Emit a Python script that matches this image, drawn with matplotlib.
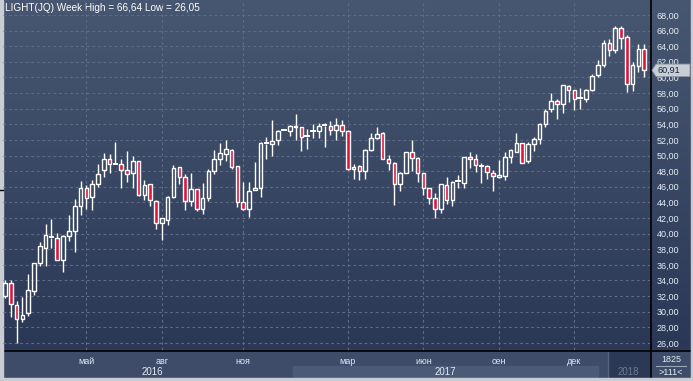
import numpy as np
import matplotlib
matplotlib.use("Agg")
import matplotlib.pyplot as plt
from matplotlib.patches import Rectangle, Polygon
from matplotlib.transforms import blended_transform_factory

# weekly OHLC
opens = [32.0, 33.7, 30.8, 29.1, 29.8, 32.7, 36.3, 38.1, 39.5, 39.5,
         36.6, 39.7, 40.3, 43.6, 45.8, 44.7, 46.3, 48.1, 49.5, 48.8,
         48.9, 48.1, 47.7, 49.3, 45.0, 46.3, 44.15, 41.3, 41.8, 44.7,
         48.5, 47.2, 44.15, 45.7, 43.1, 44.5, 48.0, 49.5, 50.25, 50.75,
         48.6, 44.1, 43.1, 45.6, 45.8, 51.5, 51.5, 52.0, 53.2, 53.15,
         53.8, 53.7, 52.4, 53.1, 53.1, 53.8, 53.8, 53.3, 53.96, 53.2,
         48.3, 48.6, 48.07, 50.7, 52.2, 52.9, 49.6, 49.1, 46.4, 47.8,
         50.5, 49.7, 47.7, 45.9, 44.6, 43.1, 46.2, 44.3, 46.6, 46.45,
         49.8, 49.5, 48.75, 48.6, 47.7, 47.3, 47.4, 49.8, 50.5, 51.6,
         49.3, 51.45, 52.1, 54.1, 55.9, 57.0, 56.6, 58.9, 58.4, 57.3,
         57.3, 58.4, 60.3, 61.6, 64.4, 63.5, 66.3, 65.15, 59.1, 61.4,
         63.6]
highs = [34.0, 34.1, 31.4, 31.9, 34.8, 36.3, 38.9, 41.2, 41.9, 40.05,
         39.8, 42.4, 44.4, 46.75, 46.2, 46.9, 48.9, 50.3, 50.2, 51.7,
         49.5, 50.55, 49.9, 49.3, 46.85, 46.3, 44.3, 42.0, 44.8, 48.8,
         48.5, 47.6, 47.7, 45.7, 46.45, 48.25, 50.7, 51.6, 51.95, 50.8,
         48.7, 46.6, 46.6, 49.2, 51.75, 52.4, 54.5, 53.3, 53.3, 53.9,
         55.3, 53.7, 53.45, 54.0, 54.2, 54.2, 54.4, 54.85, 54.6, 53.3,
         48.96, 48.75, 50.8, 52.9, 53.66, 52.95, 50.1, 49.15, 47.85, 50.5,
         51.95, 49.75, 47.75, 45.9, 45.2, 46.35, 47.2, 46.7, 47.5, 49.8,
         50.4, 50.17, 49.1, 48.8, 48.1, 49.4, 50.4, 50.8, 52.85, 51.65,
         51.7, 52.4, 54.15, 55.9, 58.0, 57.2, 59.0, 59.0, 58.4, 58.6,
         58.5, 60.5, 62.2, 64.8, 64.9, 66.64, 66.6, 65.4, 62.0, 64.3,
         64.3]
lows = [31.8, 29.3, 26.05, 28.65, 29.4, 32.2, 35.9, 35.9, 38.2, 36.6,
        35.1, 39.1, 37.6, 42.4, 43.2, 43.0, 46.0, 47.3, 47.7, 48.75,
        45.8, 46.6, 45.8, 44.8, 44.3, 43.6, 40.6, 39.15, 41.1, 44.5,
        46.3, 43.0, 43.6, 42.95, 42.5, 44.15, 47.6, 48.75, 49.3, 48.3,
        43.4, 43.0, 42.1, 45.6, 44.7, 49.5, 50.0, 51.3, 53.1, 52.5,
        51.95, 50.6, 50.9, 52.2, 52.2, 51.1, 52.6, 52.0, 52.55, 48.2,
        47.0, 46.9, 47.0, 50.6, 52.1, 49.5, 48.2, 43.7, 45.5, 47.7,
        48.0, 46.6, 45.0, 43.8, 42.0, 42.6, 43.8, 43.6, 45.8, 45.9,
        48.4, 47.95, 46.45, 46.96, 45.5, 47.1, 46.9, 49.1, 50.4, 49.1,
        49.1, 50.6, 51.5, 53.7, 55.6, 54.7, 55.5, 56.8, 55.8, 56.0,
        56.8, 58.3, 60.0, 61.3, 62.8, 63.1, 63.65, 58.1, 58.2, 60.75,
        60.1]
closes = [33.7, 31.0, 29.1, 29.55, 32.75, 36.2, 38.4, 39.8, 39.55, 36.6,
          39.7, 40.4, 43.6, 45.9, 44.5, 46.3, 47.6, 49.5, 48.9, 48.9,
          48.2, 47.6, 49.3, 45.0, 46.2, 44.3, 41.3, 42.0, 44.7, 48.4,
          47.2, 44.15, 45.7, 43.1, 44.5, 48.0, 49.5, 50.3, 50.9, 48.5,
          44.0, 43.1, 45.4, 45.9, 51.65, 51.6, 51.9, 53.2, 53.25, 53.8,
          53.6, 52.4, 52.5, 53.2, 53.8, 53.85, 53.3, 53.96, 53.15, 48.3,
          48.5, 48.07, 50.76, 52.3, 52.8, 49.6, 49.1, 46.4, 47.8, 50.4,
          49.7, 47.7, 45.9, 44.6, 43.1, 46.3, 44.3, 46.6, 46.7, 49.8,
          49.5, 48.76, 48.7, 47.9, 47.4, 47.5, 49.8, 50.7, 51.6, 49.1,
          51.45, 52.1, 54.1, 55.7, 57.0, 56.6, 59.0, 58.4, 57.3, 57.35,
          58.4, 60.15, 61.6, 64.4, 63.5, 66.3, 65.0, 59.1, 61.6, 63.6,
          60.91]

month_labels = ["май", "авг", "ноя", "мар", "июн", "сен", "дек"]
month_idx = [14, 27, 41, 59, 72, 85, 98]
years = ["2016", "2017", "2018"]
price_ticks = list(range(26, 70, 2))

W, H = 693, 381
BG_TOP = "#485771"
BG_BOT = "#2a3856"
RED = "#e3143c"
GRID = "#5d6b86"
TXT = "#e4ebf5"

fig = plt.figure(figsize=(W / 100, H / 100), dpi=100)

# background in pixel coords
bg = fig.add_axes([0, 0, 1, 1])
bg.set_xlim(0, W)
bg.set_ylim(H, 0)
bg.axis("off")
top = np.array(matplotlib.colors.to_rgb(BG_TOP))
bot = np.array(matplotlib.colors.to_rgb(BG_BOT))
t = np.linspace(0, 1, 350)[:, None, None]
grad = top * (1 - t) + bot * t
grad = np.repeat(grad, 2, axis=1)
bg.imshow(grad, extent=[0, W, 350, 0], aspect="auto", zorder=0)

# bottom strip
bg.add_patch(Rectangle((0, 350), W, 31, color="#3e4c69", zorder=1))
bg.add_patch(Rectangle((293, 366), 305, 12, color="#4b5a77", zorder=2))
bg.add_patch(Rectangle((609, 352), 40, 26, color="#2b3956", zorder=2))
bg.plot([608, 608], [352, 378], color="#56637c", lw=1, zorder=3)
bg.plot([3, W], [350.5, 350.5], color="black", lw=1.2, zorder=4)
bg.plot([650.5, 650.5], [0, 378], color="black", lw=1.2, zorder=4)
# right-bottom counter box
bg.text(671, 360, "1825", color=TXT, fontsize=6.5, family="Liberation Sans",
        ha="center", va="center", zorder=5)
bg.plot([656, 686], [366, 366], color="#9aa5b8", lw=0.8, zorder=5)
bg.text(671, 372.5, ">111<", color=TXT, fontsize=6.5, family="Liberation Sans",
        ha="center", va="center", zorder=5)
# frame
bg.add_patch(Rectangle((0, 0), 2.5, H, color="#c9ccd3", zorder=6))
bg.add_patch(Rectangle((0, 378), W, 3, color="#c9ccd3", zorder=6))
bg.add_patch(Rectangle((690.5, 0), 2.5, H, color="#c9ccd3", zorder=6))
bg.plot([0, 3], [190, 190], color="black", lw=1, zorder=7)

# title
bg.text(5, 8, "LIGHT(JQ) Week High = 66,64 Low = 26,05", color="white",
        fontsize=7.2, family="Liberation Sans", ha="left", va="center", zorder=7)

# main candle axes
ax = fig.add_axes([3 / W, 31 / H, 647 / W, 347 / H])
ax.patch.set_alpha(0)
ax.set_xlim(-0.34, 111.0)
ax.set_ylim(25.10, 69.53)
for s in ax.spines.values():
    s.set_visible(False)

ax.set_yticks(price_ticks)
ax.set_yticklabels([f"{v:.2f}".replace(".", ",") for v in price_ticks])
ax.yaxis.tick_right()
ax.tick_params(axis="y", length=0, pad=5, labelsize=6.5, labelcolor=TXT)
ax.set_xticks(month_idx)
ax.set_xticklabels(month_labels)
ax.tick_params(axis="x", length=0, pad=5, labelsize=6.5, labelcolor=TXT)
for lab in ax.get_xticklabels() + ax.get_yticklabels():
    lab.set_family("Liberation Sans")
ax.grid(True, color=GRID, lw=0.8, linestyle=(0, (2.5, 2.5)))
ax.set_axisbelow(True)

bw = 0.62
for i, (o, h, l, c) in enumerate(zip(opens, highs, lows, closes)):
    up = c >= o
    lo_b, hi_b = min(o, c), max(o, c)
    ax.plot([i, i], [hi_b, h], color="white", lw=1, zorder=2, solid_capstyle="butt")
    ax.plot([i, i], [l, lo_b], color="white", lw=1, zorder=2, solid_capstyle="butt")
    if hi_b - lo_b < 0.15:
        ax.plot([i - bw / 2, i + bw / 2], [c, c], color="white", lw=1.4, zorder=3)
    else:
        ax.add_patch(Rectangle((i - bw / 2, lo_b), bw, hi_b - lo_b,
                               facecolor="none" if up else RED,
                               edgecolor="white", lw=1, zorder=3))

# year labels below months
tr = blended_transform_factory(ax.transData, fig.transFigure)
ax.text(25.3, 1 - 372 / H, years[0], transform=tr, ha="center", va="center",
        color=TXT, fontsize=7, family="Liberation Sans")
ax.text(75.8, 1 - 372 / H, years[1], transform=tr, ha="center", va="center",
        color=TXT, fontsize=7, family="Liberation Sans")
ax.text(107.2, 1 - 372 / H, years[2], transform=tr, ha="center", va="center",
        color="#6d7a92", fontsize=7, family="Liberation Sans")

# last price marker
last = closes[-1]
tr2 = blended_transform_factory(fig.transFigure, ax.transData)
ax.add_patch(Polygon([[652 / W, last], [656 / W, last + 0.8], [690 / W, last + 0.8],
                      [690 / W, last - 0.8], [656 / W, last - 0.8]],
                     closed=True, transform=tr2, facecolor="#c9cdd4",
                     edgecolor="#8d95a3", lw=0.6, clip_on=False, zorder=6))
ax.text(658 / W, last, f"{last:.2f}".replace(".", ","), transform=tr2,
        ha="left", va="center", color="#15233c", fontsize=6.5,
        family="Liberation Sans", zorder=7)

fig.savefig("out.png", dpi=100)
